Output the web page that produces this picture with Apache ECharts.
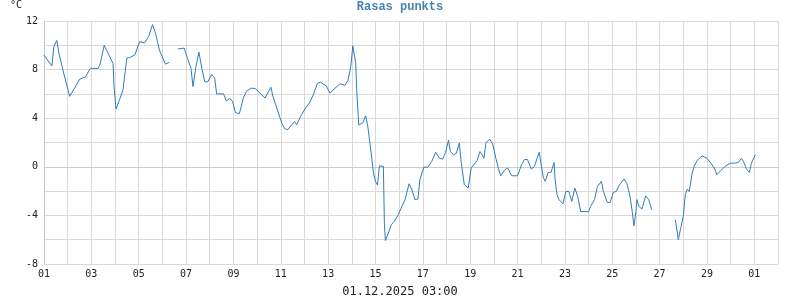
<!DOCTYPE html>
<html>
<head>
<meta charset="utf-8">
<script src="https://cdn.jsdelivr.net/npm/echarts@6/dist/echarts.min.js"></script>
<style>html,body{margin:0;padding:0;background:#fff}#c{width:800px;height:300px}</style>
</head>
<body>
<div id="c"></div>
<script>
// hours since 01.11.2025 00:00, and temperature (°C)
var seg1Hours = [0,8,10,13,15,20,26,33,36,42,47,55,57,61,70,71,73,76,80,84,87,92,97,102,106,110,113,117,123,127];
var seg1Temps = [9.2,8.3,9.9,10.4,9.4,7.7,5.8,6.75,7.2,7.4,8.1,8.1,8.5,10.0,8.5,6.6,4.75,5.4,6.3,8.95,9.0,9.2,10.3,10.2,10.7,11.7,11.0,9.6,8.45,8.6];

var seg2Hours = [136,138,142,146,149,151,154,157,160,163,166,170,173,175,182,185,188,191,194,198,202,205,210,214,219,224,230,232,236,241,244,247,251,254,256,261,265,269,273,277,280,286,290,295,300,305,308,311,313,316,317,319,323,326,328,331,334,336,338,340,344,345,346,349,352,355,359,362,366,370,373,376,379,381,385,389,393,397,401,404,407,410,412,415,418,421,423,426,430,433,437,439,442,446,448,452,455,458,461,463,467,470,474,480,484,487,490,494,497,502,504,506,508,511,514,517,518,520,522,526,529,532,535,538,541,544,552,554,558,561,565,567,571,574,577,580,583,588,591,594,596,598,600,601,603,606,610,613,616];
var seg2Temps = [9.7,9.77,9.77,8.8,8.1,6.6,8.25,9.44,8.1,7.0,7.0,7.6,7.3,6.0,6.0,5.4,5.65,5.4,4.47,4.36,5.65,6.2,6.47,6.45,6.06,5.65,6.55,5.8,4.83,3.6,3.13,3.05,3.46,3.73,3.46,4.28,4.83,5.24,5.93,6.83,6.97,6.67,6.06,6.47,6.83,6.7,7.1,8.25,9.96,8.5,6.3,3.46,3.6,4.2,3.46,1.54,-0.52,-1.2,-1.5,0.08,0.03,-4.6,-6.07,-5.46,-4.77,-4.5,-3.95,-3.4,-2.7,-1.4,-1.9,-2.7,-2.66,-1.07,-0.03,-0.03,0.44,1.2,0.7,0.63,1.18,2.17,1.26,0.99,1.12,1.95,0.3,-1.48,-1.75,-0.1,0.3,0.52,1.26,0.7,2.0,2.28,1.8,0.7,-0.25,-0.74,-0.25,-0.1,-0.74,-0.74,0.16,0.6,0.6,-0.19,0.03,1.2,1.1,-0.85,-1.2,-0.47,-0.45,0.36,-1.0,-2.3,-2.7,-3.05,-2.03,-2.03,-2.85,-1.75,-2.44,-3.68,-3.7,-3.26,-2.7,-1.62,-1.2,-2.03,-2.93,-2.93,-2.1,-2.03,-1.53,-1.0,-1.4,-2.44,-3.54,-4.86,-3.68,-2.7,-3.26,-3.48,-2.39,-2.7,-3.54];

var seg3Hours = [640,643,645,648,650,652,654,657,659,662,667,672,676,680,682,686,691,696,701,704,707,709,712,715,717,721];
var seg3Temps = [-4.36,-6.0,-5.2,-4.1,-2.3,-1.84,-2.03,-0.52,0.03,0.52,0.9,0.7,0.3,-0.19,-0.66,-0.3,0.08,0.3,0.3,0.38,0.7,0.44,-0.19,-0.47,0.3,0.99];

var yTickLabels = [-8,-4,0,4,8,12];
var titleText = 'Rasas punkts';
var unitText = '°C';
var stampText = '01.12.2025 03:00';

function pad(n){return (n<10?'0':'')+n;}
var data = [];
[[seg1Hours,seg1Temps],[seg2Hours,seg2Temps],[seg3Hours,seg3Temps]].forEach(function(s,i){
  if(i>0){data.push([s[0][0]-1,null]);}
  for(var k=0;k<s[0].length;k++){data.push([s[0][k],s[1][k]]);}
});

var chart = echarts.init(document.getElementById('c'));
chart.setOption({
  animation:false,
  title:[
    {text:titleText,left:'center',top:1,padding:0,textStyle:{fontFamily:'Liberation Mono',fontWeight:'bold',fontSize:12,color:'#4682b4'}},
    {text:unitText,left:10,top:0,padding:0,textStyle:{fontFamily:'DejaVu Sans Mono',fontWeight:'normal',fontSize:10,color:'#222'}},
    {text:stampText,left:'center',top:286,padding:0,textStyle:{fontFamily:'DejaVu Sans Mono',fontWeight:'normal',fontSize:12,color:'#222'}}
  ],
  grid:{left:44,right:22,top:21,bottom:36,containLabel:false},
  xAxis:{
    type:'value',min:0,max:744,interval:24,
    axisLine:{show:true,lineStyle:{color:'#cccccc'}},
    axisTick:{show:true,length:3,lineStyle:{color:'#cccccc'}},
    splitLine:{show:true,lineStyle:{color:'#d9d9d9',width:1}},
    axisLabel:{
      fontFamily:'DejaVu Sans Mono',fontSize:10,color:'#222',margin:5,
      formatter:function(v){var d=Math.round(v/24);if(d%2!==0||d>30)return '';return d<30?pad(d+1):pad(d-29);}
    }
  },
  yAxis:{
    type:'value',min:-8,max:12,interval:2,
    axisLine:{show:true,lineStyle:{color:'#cccccc'}},
    axisTick:{show:false},
    splitLine:{show:true,lineStyle:{color:'#d9d9d9',width:1}},
    axisLabel:{
      fontFamily:'DejaVu Sans Mono',fontSize:10,color:'#222',margin:6,
      formatter:function(v){return yTickLabels.indexOf(v)>=0?String(v):'';}
    }
  },
  series:[{
    type:'line',data:data,showSymbol:false,connectNulls:false,
    lineStyle:{color:'#2f7cbd',width:1},
    itemStyle:{color:'#2f7cbd'}
  }]
});
</script>
</body>
</html>
